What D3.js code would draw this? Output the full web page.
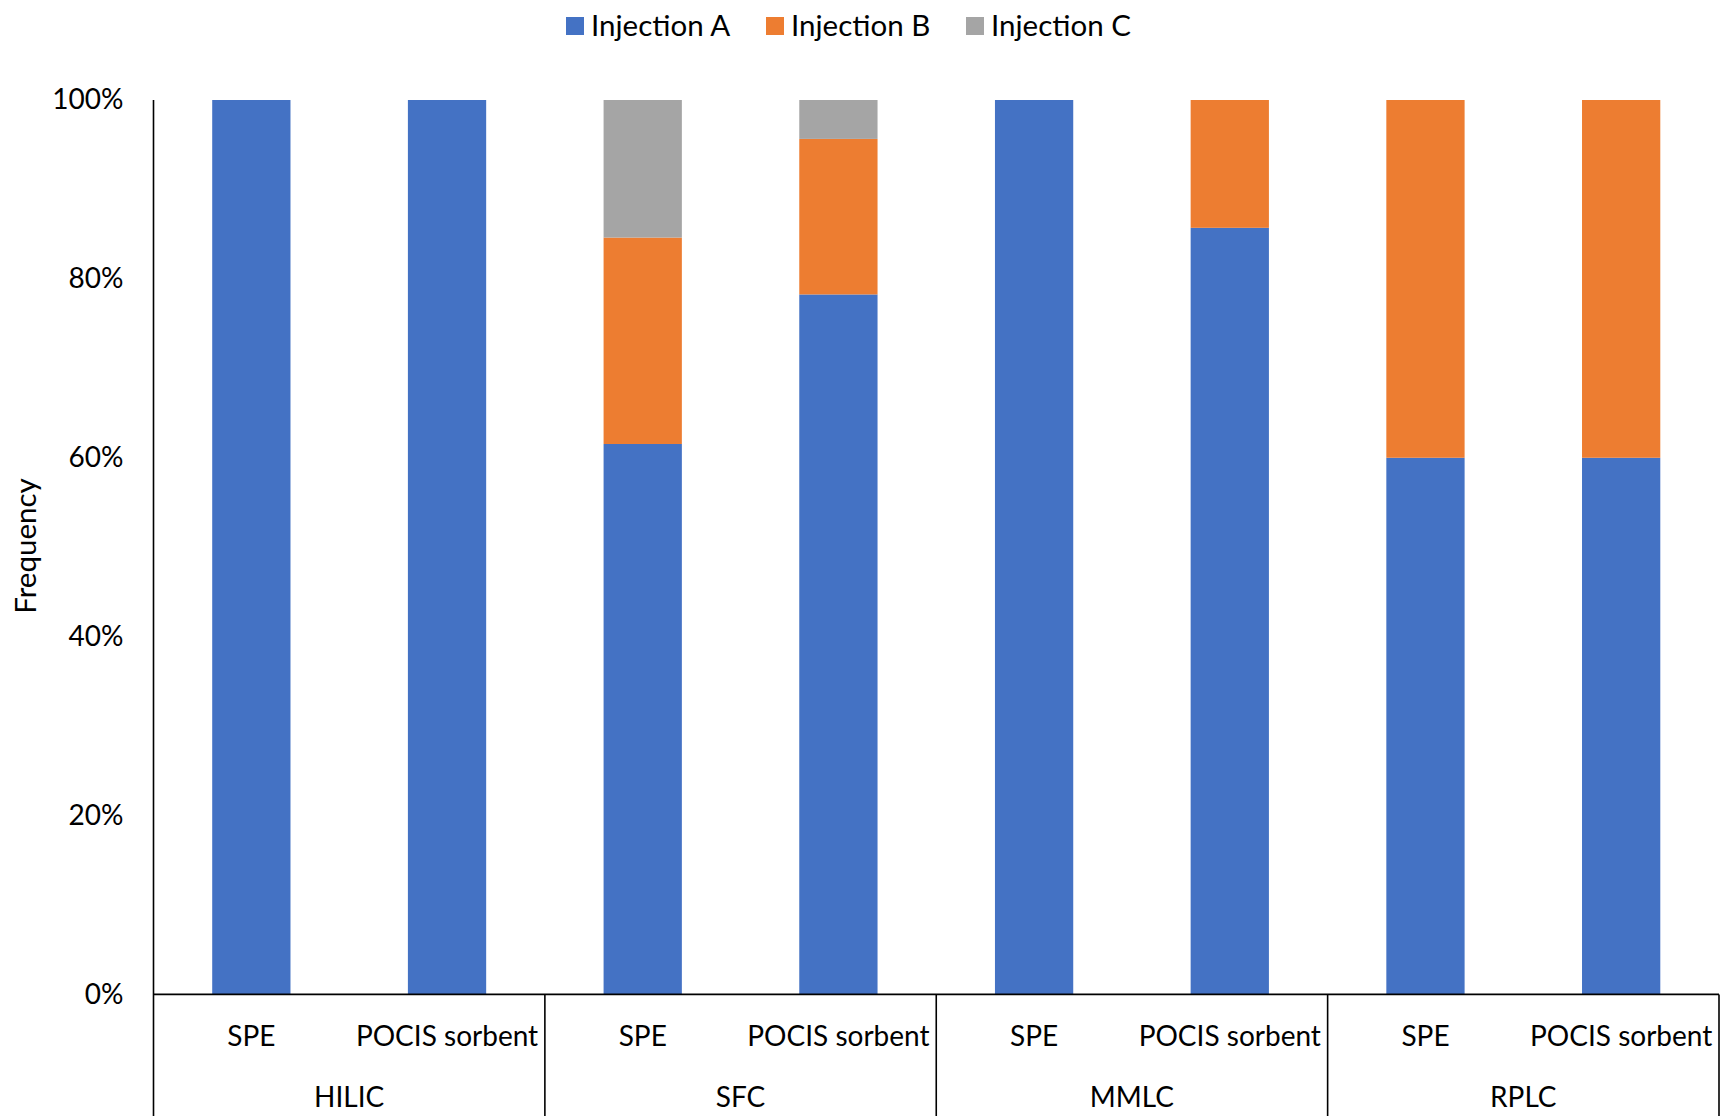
<!DOCTYPE html>
<html>
<head>
<meta charset="utf-8">
<script src="https://cdn.jsdelivr.net/npm/d3@7"></script>
<style>
  html, body { margin: 0; padding: 0; background: #fff; }
  svg text { font-family: Lato, "Noto Sans", sans-serif; fill: #000; }
</style>
</head>
<body>
<svg id="chart" width="1721" height="1116"></svg>
<script>
// ---- data ----
const groups = ["HILIC", "SFC", "MMLC", "RPLC"];
const methods = ["SPE", "POCIS sorbent"];
const seriesNames = ["Injection A", "Injection B", "Injection C"];
const injectionA = [1, 1, 0.6154, 0.7826, 1, 0.8571, 0.6, 0.6];
const injectionB = [0, 0, 0.2308, 0.1739, 0, 0.1429, 0.4, 0.4];
const injectionC = [0, 0, 0.1538, 0.0435, 0, 0, 0, 0];
const yTicks = [0, 0.2, 0.4, 0.6, 0.8, 1.0];
const colors = ["#4472C4", "#ED7D31", "#A5A5A5"];

// build rows
const rows = [];
groups.forEach((g, gi) => methods.forEach((m, mi) => {
  const i = gi * methods.length + mi;
  rows.push({ key: g + "|" + m, group: g, method: m,
    "Injection A": injectionA[i], "Injection B": injectionB[i], "Injection C": injectionC[i] });
}));

const svg = d3.select("#chart");
const margin = { left: 153.5, right: 1719, top: 100, bottom: 994.4 };
const fontSize = 28;
const legendFont = 29.5;

const x = d3.scaleBand().domain(rows.map(d => d.key))
  .range([margin.left, margin.right]).paddingInner(0.6).paddingOuter(0.3);
const y = d3.scaleLinear().domain([0, 1]).range([margin.bottom, margin.top]);

const stack = d3.stack().keys(seriesNames)(rows);

// bars
svg.append("g").selectAll("g").data(stack).join("g")
  .attr("fill", (d, i) => colors[i])
  .selectAll("rect").data(d => d.filter(s => s[1] - s[0] > 0)).join("rect")
  .attr("x", d => x(d.data.key))
  .attr("width", x.bandwidth())
  .attr("y", d => y(d[1]))
  .attr("height", d => y(d[0]) - y(d[1]));

// y axis labels
const yAxis = d3.axisLeft(y).tickValues(yTicks).tickSize(0).tickPadding(30)
  .tickFormat(d3.format(".0%"));
const yg = svg.append("g").attr("transform", `translate(${margin.left},0)`).call(yAxis);
yg.select(".domain").remove();
yg.selectAll("text").style("font-size", fontSize + "px").attr("font-family", null);

// axis lines
const lineColor = "#000";
svg.append("line").attr("x1", margin.left).attr("x2", margin.left)
  .attr("y1", margin.top).attr("y2", 1116).attr("stroke", lineColor).attr("stroke-width", 1.6);
svg.append("line").attr("x1", margin.left).attr("x2", margin.right)
  .attr("y1", margin.bottom).attr("y2", margin.bottom).attr("stroke", lineColor).attr("stroke-width", 1.6);

// group separators
const step = x.step();
groups.forEach((g, gi) => {
  const firstKey = g + "|" + methods[0];
  const lastKey = g + "|" + methods[methods.length - 1];
  const xr = x(lastKey) + x.bandwidth() / 2 + step / 2;
  const xl = x(firstKey) + x.bandwidth() / 2 - step / 2;
  svg.append("line").attr("x1", xr).attr("x2", xr).attr("y1", margin.bottom).attr("y2", 1116)
    .attr("stroke", lineColor).attr("stroke-width", 1.6);
  svg.append("text").attr("x", (xl + xr) / 2).attr("y", 1097).attr("dy", "0.35em")
    .attr("text-anchor", "middle").style("font-size", fontSize + "px").text(g);
});

// method labels
svg.append("g").selectAll("text").data(rows).join("text")
  .attr("x", d => x(d.key) + x.bandwidth() / 2)
  .attr("y", 1036).attr("dy", "0.35em")
  .attr("text-anchor", "middle").style("font-size", fontSize + "px")
  .text(d => d.method);

// y title
svg.append("text").attr("transform", "translate(26,546) rotate(-90)")
  .attr("dy", "0.35em").attr("text-anchor", "middle").style("font-size", legendFont + "px")
  .text("Frequency");

// legend
const legendX = [566, 766, 966];
const lg = svg.append("g").selectAll("g").data(seriesNames).join("g")
  .attr("transform", (d, i) => `translate(${legendX[i]},26)`);
lg.append("rect").attr("x", 0).attr("y", -9).attr("width", 18).attr("height", 18)
  .attr("fill", (d, i) => colors[i]);
lg.append("text").attr("x", 25).attr("dy", "0.35em").style("font-size", legendFont + "px").text(d => d);
</script>
</body>
</html>
